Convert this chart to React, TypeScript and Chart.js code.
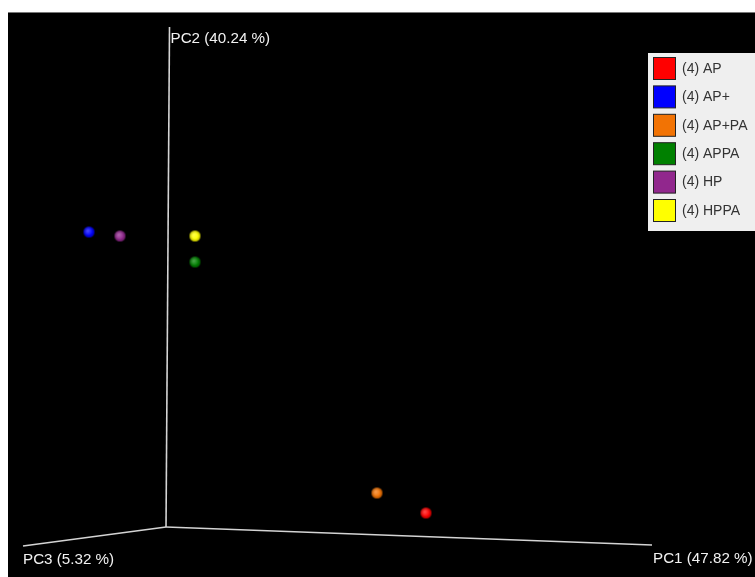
import { useEffect, useRef } from "react";
import { Chart, registerables } from "chart.js";

Chart.register(...registerables);

// Group labels and colours
const groups = ["(4) AP", "(4) AP+", "(4) AP+PA", "(4) APPA", "(4) HP", "(4) HPPA"];
const colors = ["#ff0000", "#0000ff", "#f27304", "#008000", "#91278d", "#ffff00"];
// Projected (screen-plane) coordinates of each group's centroid
const projX = [260, -77, 211, 29, -46, 29];
const projY = [14, 295, 34, 265, 291, 291];
// Projected axis end points (origin at 0,0)
const axisNames = ["PC1 (47.82 %)", "PC2 (40.24 %)", "PC3 (5.32 %)"];
const axisEndX = [486, 3.5, -143];
const axisEndY = [-18, 500, -19];
const labelDx = [1, 1, 0];
const labelDy = [13.5, 12, 13.5];

function sphere(color: string, r: number): HTMLCanvasElement {
  const c = document.createElement("canvas");
  const s = Math.ceil(r * 2 + 2);
  c.width = s;
  c.height = s;
  const ctx = c.getContext("2d")!;
  const cx = s / 2;
  const cy = s / 2;
  ctx.beginPath();
  ctx.arc(cx, cy, r, 0, Math.PI * 2);
  ctx.fillStyle = color;
  ctx.fill();
  const hl = ctx.createRadialGradient(cx - r * 0.2, cy - r * 0.2, 0, cx - r * 0.2, cy - r * 0.2, r * 0.9);
  hl.addColorStop(0, "rgba(255,255,255,0.3)");
  hl.addColorStop(1, "rgba(255,255,255,0)");
  ctx.fillStyle = hl;
  ctx.fill();
  const sh = ctx.createRadialGradient(cx, cy, r * 0.5, cx, cy, r);
  sh.addColorStop(0, "rgba(0,0,0,0)");
  sh.addColorStop(1, "rgba(0,0,0,0.3)");
  ctx.fillStyle = sh;
  ctx.fill();
  return c;
}

const overlayPlugin = {
  id: "overlay",
  afterDatasetsDraw(chart: any) {
    const ctx = chart.ctx as CanvasRenderingContext2D;
    const xs = chart.scales.x;
    const ys = chart.scales.y;
    ctx.save();
    // axis labels
    ctx.font = "15.2px 'Liberation Sans', Arial, sans-serif";
    ctx.fillStyle = "#f2f2f2";
    ctx.textBaseline = "middle";
    ctx.textAlign = "left";
    axisNames.forEach((name, i) => {
      const px = xs.getPixelForValue(axisEndX[i]);
      const py = ys.getPixelForValue(axisEndY[i]);
      ctx.fillText(name, px + labelDx[i], py + labelDy[i]);
    });
    // legend
    const lx = 640;
    const ly = 40;
    const lw = chart.width - lx;
    const lh = 178;
    ctx.fillStyle = "#efefef";
    ctx.fillRect(lx, ly, lw, lh);
    ctx.font = "14px 'Liberation Sans', Arial, sans-serif";
    groups.forEach((g, i) => {
      const top = 44 + i * 28.4;
      ctx.fillStyle = colors[i];
      ctx.fillRect(645.5, top + 0.5, 22, 22);
      ctx.strokeStyle = "#222";
      ctx.lineWidth = 1;
      ctx.strokeRect(645.5, top + 0.5, 22, 22);
      ctx.fillStyle = "#333";
      ctx.fillText(g, 674, top + 12);
    });
    ctx.restore();
  },
};

export default function App() {
  const ref = useRef<HTMLCanvasElement | null>(null);
  useEffect(() => {
    if (!ref.current) return;
    const axisSets = axisNames.map((n, i) => ({
      label: n,
      data: [
        { x: 0, y: 0 },
        { x: axisEndX[i], y: axisEndY[i] },
      ],
      showLine: true,
      borderColor: "#d4d4d4",
      borderWidth: 1.6,
      pointRadius: 0,
      order: 10,
      clip: false as any,
    }));
    const pointSets = groups.map((g, i) => ({
      label: g,
      data: [{ x: projX[i], y: projY[i] }],
      pointStyle: sphere(colors[i], 5.5),
      pointRadius: 5.5,
      backgroundColor: colors[i],
      borderColor: colors[i],
      order: 0,
      clip: false as any,
    }));
    const chart = new Chart(ref.current, {
      type: "scatter",
      data: { datasets: [...axisSets, ...pointSets] as any },
      options: {
        animation: false,
        responsive: false,
        events: [],
        layout: { padding: 0, autoPadding: false },
        plugins: { legend: { display: false }, tooltip: { enabled: false } },
        scales: {
          x: { type: "linear", min: -158, max: 589, display: false },
          y: { type: "linear", min: -50, max: 514, display: false },
        },
      },
      plugins: [overlayPlugin],
    });
    return () => chart.destroy();
  }, []);
  return (
    <div
      style={{
        position: "absolute",
        left: 8,
        top: 12,
        width: 747,
        height: 565,
        boxSizing: "border-box",
        borderTop: "1px solid #777",
        background: "#000",
      }}
    >
      <canvas ref={ref} width={747} height={564} style={{ display: "block", background: "#000" }} />
    </div>
  );
}
